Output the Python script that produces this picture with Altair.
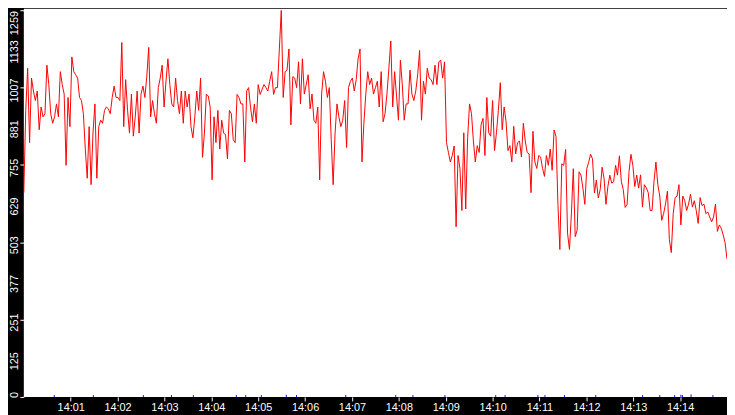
import altair as alt
import pandas as pd

# ---- time span of the chart ----
START = "2024-01-01T14:00:00"
END = "2024-01-01T14:15:00"

# ---- red series: values read left to right (one list per ~1.5 minutes) ----
seg1 = [665, 933, 1070, 828, 1038, 996, 965, 996, 870, 944, 912, 922, 1080, 1017, 922,
        891, 912, 954, 912, 1059, 1017, 986, 754, 975, 880, 1107, 1059, 1049, 1038, 975,
        965, 922, 807, 712, 880, 691, 859, 954, 712, 880, 901, 891, 933, 944, 938]
seg2 = [922, 975, 1012, 975, 975, 965, 1154, 880, 1033, 933, 859, 986, 849, 912, 996,
        859, 986, 1012, 975, 1043, 1138, 912, 965, 922, 891, 1007, 1038, 1080, 944, 1028,
        1101, 1017, 954, 944, 1038, 965, 922, 996, 891, 996, 944, 986, 880, 844, 912, 996]
seg3 = [933, 1038, 780, 859, 985, 980, 943, 707, 912, 828, 933, 807, 901, 859, 854,
        775, 933, 922, 838, 828, 985, 975, 954, 954, 765, 996, 1007, 943, 896, 954,
        891, 1017, 985, 1001, 1017, 1007, 996, 1028, 1059, 985, 1007, 1007, 1133, 1259, 975, 1059]
seg4 = [1064, 1133, 886, 1043, 1038, 1007, 1091, 954, 1101, 986, 1017, 1049, 938, 986, 901,
        891, 944, 707, 986, 1059, 1028, 975, 1007, 838, 691, 859, 954, 912, 880, 901,
        965, 812, 1007, 1028, 1038, 996, 1033, 1101, 1133, 765, 891, 986, 1059, 1017, 1038, 986]
seg5 = [1007, 1028, 944, 1059, 896, 922, 986, 1070, 1159, 944, 1059, 980, 901, 1096, 1017,
        901, 954, 954, 1064, 986, 965, 996, 1049, 1128, 901, 1028, 986, 1070, 1038, 1033,
        1017, 1080, 1017, 1091, 1096, 1038, 1091, 828, 796, 765, 786, 817, 554, 786, 744, 607]
seg6 = [860, 612, 844, 954, 923, 833, 765, 818, 796, 886, 907, 786, 975, 860, 849,
        965, 802, 860, 933, 1023, 870, 944, 896, 802, 818, 765, 881, 791, 828, 833,
        781, 891, 833, 796, 791, 665, 865, 765, 744, 786, 781, 744, 718, 786, 754, 807]
seg7 = [738, 869, 848, 627, 480, 759, 754, 806, 533, 480, 596, 743, 522, 543, 733,
        722, 680, 627, 743, 764, 790, 775, 664, 706, 648, 675, 748, 712, 627, 685,
        722, 696, 701, 754, 722, 785, 701, 675, 617, 627, 733, 790, 754, 685, 722, 680]
seg8 = [723, 618, 691, 681, 665, 607, 607, 702, 765, 691, 654, 575, 597, 628, 670,
        512, 470, 597, 649, 654, 691, 560, 654, 639, 607, 628, 660, 618, 639, 607,
        565, 649, 623, 628, 597, 602, 586, 570, 586, 628, 539, 560, 549, 528, 502, 449]

# ---- blue series: small spikes near zero ----
blue_times = ["14:00:39", "14:01:29", "14:02:33", "14:03:09", "14:03:37", "14:04:32",
              "14:04:44", "14:05:04", "14:05:36", "14:05:49", "14:06:52", "14:07:56",
              "14:08:18", "14:08:59", "14:10:04", "14:10:16", "14:10:58", "14:11:07",
              "14:11:32", "14:12:12", "14:13:12", "14:13:34", "14:13:53", "14:14:01",
              "14:14:03", "14:14:14", "14:14:42"]
blue_values = [6, 6, 6, 6, 6, 6, 6, 6, 7, 6, 6, 6, 6, 6, 6, 6, 6, 6, 6, 6, 6, 6, 6, 7, 6, 8, 6]

# ---- axis ticks ----
y_ticks = [0, 125.9, 251.8, 377.7, 503.6, 629.5, 755.4, 881.3, 1007.2, 1133.1, 1259]
x_tick_minutes = [1, 2, 3, 4, 5, 6, 7, 8, 9, 10, 11, 12, 13, 14]
Y_MAX = 1259

values = seg1 + seg2 + seg3 + seg4 + seg5 + seg6 + seg7 + seg8
red_df = pd.DataFrame({
    "t": pd.date_range(START, END, periods=len(values)),
    "v": values,
})
blue_df = pd.DataFrame({
    "t": ["2024-01-01T" + s for s in blue_times],
    "v": blue_values,
})
tick_df = pd.DataFrame({"v": y_ticks})
top_df = pd.DataFrame({"t": [START], "t2": [END], "v": [Y_MAX]})

FONT = "Liberation Sans"

x_scale = alt.Scale(domain=[alt.DateTime(year=2024, month=1, date=1, hours=14, minutes=0),
                            alt.DateTime(year=2024, month=1, date=1, hours=14, minutes=15)])
y_scale = alt.Scale(domain=[0, Y_MAX], nice=False, zero=True)

x_axis = alt.Axis(
    values=[alt.DateTime(year=2024, month=1, date=1, hours=14, minutes=m) for m in x_tick_minutes],
    format="%H:%M", labelColor="white", labelFont=FONT, labelFontSize=11,
    labelPadding=1, tickColor="white", tickSize=4, tickWidth=1, domain=False,
    grid=False, title=None, labelFlush=False, labelOverlap=False,
)
y_axis = alt.Axis(
    values=y_ticks, labels=False, tickColor="white", tickSize=4, tickWidth=1,
    domain=False, grid=False, title=None,
)

# white edge along the top of the plot (covers the frame's hairline)
top_edge = alt.Chart(top_df).mark_rule(color="white", strokeWidth=3, clip=False).encode(
    x=alt.X("t:T", scale=x_scale),
    x2="t2:T",
    y=alt.Y("v:Q", scale=y_scale),
)

red = alt.Chart(red_df).mark_line(color="#ff0000", strokeWidth=1, clip=True).encode(
    x=alt.X("t:T", scale=x_scale, axis=x_axis),
    y=alt.Y("v:Q", scale=y_scale, axis=y_axis),
)
blue = alt.Chart(blue_df).mark_rule(color="#0000ff", strokeWidth=1, clip=True).encode(
    x=alt.X("t:T", scale=x_scale),
    y=alt.Y("v:Q", scale=y_scale),
    y2=alt.datum(0),
)

# y-axis labels (rotated, reading bottom to top), value floored like the original
def ylabels(filter_expr, shift):
    return alt.Chart(tick_df).transform_filter(filter_expr).transform_calculate(
        label="floor(datum.v)"
    ).mark_text(
        angle=270, align="center", baseline="bottom", color="white",
        font=FONT, fontSize=11, dx=shift,
    ).encode(
        x=alt.value(-4),
        y=alt.Y("v:Q", scale=y_scale),
        text="label:N",
    )

lab_top = ylabels("datum.v >= 1259", -13)
lab_mid = ylabels("datum.v > 0 && datum.v < 1259", -3)
lab_zero = ylabels("datum.v <= 0", 2)

chart = alt.layer(top_edge, blue, red, lab_top, lab_mid, lab_zero).properties(
    width=711, height=391,
    padding={"left": 16, "top": 0, "right": 0, "bottom": 16},
    autosize=alt.AutoSizeParams(type="none"),
    background="black",
).configure_view(fill="white", stroke=None, strokeWidth=0)

chart.save("out.html", embed_options={"renderer": "svg", "actions": False})
